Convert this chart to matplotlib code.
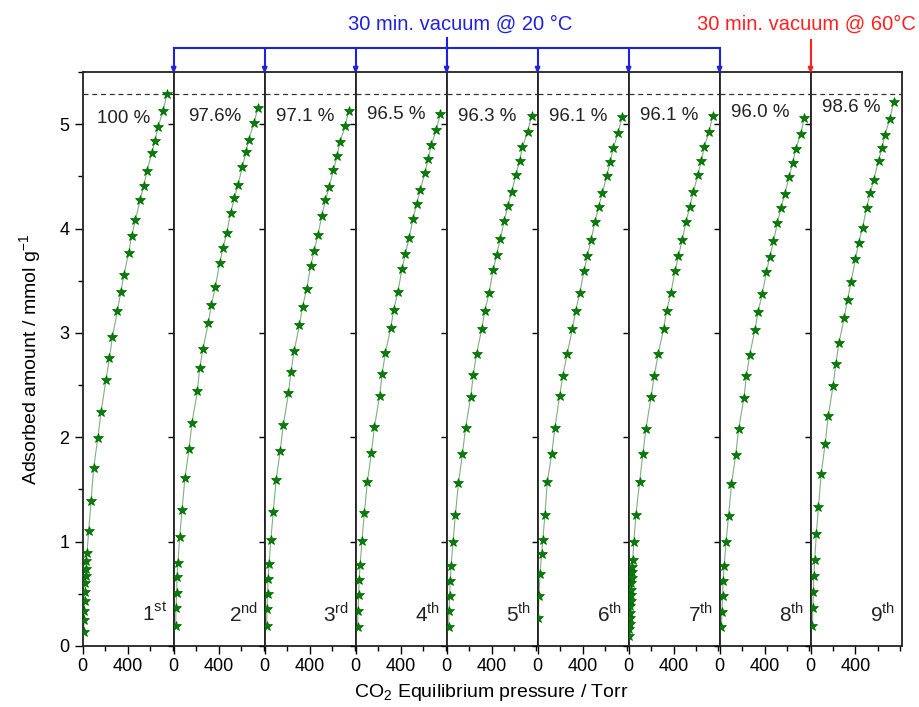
import matplotlib.pyplot as plt
from matplotlib.ticker import MultipleLocator

plt.rcParams['font.family'] = ['Liberation Sans', 'DejaVu Sans']

# CO2 pressure (Torr) and adsorbed amount (mmol/g) for each cycle
p1 = [9, 12, 15, 18, 21, 24, 27, 30, 33, 38, 53, 74, 98, 134, 163, 207, 238, 264, 309, 338,
      368, 409, 436, 469, 510, 543, 572, 614, 643, 670, 715, 750]
q1 = [0.13, 0.25, 0.34, 0.43, 0.52, 0.60, 0.67, 0.74, 0.81, 0.89, 1.10, 1.39, 1.71, 1.99, 2.24,
      2.55, 2.76, 2.96, 3.21, 3.39, 3.56, 3.77, 3.93, 4.08, 4.27, 4.41, 4.55, 4.72, 4.84, 4.97,
      5.13, 5.29]

p2 = [18, 20, 27, 29, 38, 53, 74, 100, 137, 163, 211, 231, 261, 309, 335, 371, 409, 439, 472,
      507, 540, 572, 611, 643, 668, 715, 750]
q2 = [0.19, 0.36, 0.51, 0.66, 0.80, 1.04, 1.30, 1.61, 1.89, 2.14, 2.44, 2.66, 2.85, 3.10, 3.27,
      3.44, 3.67, 3.81, 3.96, 4.15, 4.29, 4.42, 4.59, 4.73, 4.85, 5.01, 5.16]

p3 = [18, 20, 26, 30, 39, 55, 76, 102, 138, 166, 212, 234, 263, 310, 337, 373, 410, 441, 474,
      508, 541, 574, 612, 645, 670, 716, 748]
q3 = [0.19, 0.35, 0.50, 0.64, 0.79, 1.02, 1.28, 1.59, 1.87, 2.12, 2.42, 2.63, 2.83, 3.08, 3.25,
      3.42, 3.64, 3.79, 3.94, 4.12, 4.27, 4.40, 4.56, 4.70, 4.83, 4.98, 5.13]

p4 = [17, 21, 27, 31, 40, 56, 77, 104, 140, 167, 214, 236, 265, 312, 339, 375, 412, 443, 476,
      510, 543, 576, 614, 647, 672, 719, 754]
q4 = [0.18, 0.34, 0.49, 0.63, 0.78, 1.01, 1.27, 1.57, 1.85, 2.10, 2.40, 2.61, 2.81, 3.05, 3.22,
      3.39, 3.61, 3.76, 3.91, 4.09, 4.24, 4.37, 4.53, 4.67, 4.80, 4.95, 5.10]

p5 = [17, 21, 27, 31, 40, 57, 78, 105, 141, 168, 215, 237, 266, 313, 340, 377, 414, 445, 478,
      512, 545, 578, 616, 649, 675, 721, 756]
q5 = [0.18, 0.34, 0.48, 0.62, 0.77, 1.00, 1.26, 1.56, 1.84, 2.09, 2.39, 2.60, 2.80, 3.04, 3.21,
      3.38, 3.60, 3.75, 3.90, 4.07, 4.22, 4.35, 4.51, 4.65, 4.78, 4.93, 5.08]

p6 = [6, 12, 21, 36, 47, 65, 86, 125, 154, 196, 225, 263, 310, 338, 375, 412, 443, 476, 510,
      543, 576, 614, 647, 672, 718, 751]
q6 = [0.27, 0.48, 0.69, 0.88, 1.02, 1.26, 1.57, 1.84, 2.09, 2.40, 2.59, 2.80, 3.04, 3.21, 3.38,
      3.59, 3.74, 3.89, 4.06, 4.21, 4.34, 4.50, 4.64, 4.77, 4.92, 5.07]

p7 = [6, 8, 10, 12, 14, 16, 18, 20, 22, 24, 27, 30, 33, 36, 47, 65, 98, 127, 154, 201, 228,
      264, 311, 338, 376, 413, 444, 477, 511, 544, 577, 615, 648, 673, 717, 748]
q7 = [0.10, 0.16, 0.21, 0.27, 0.32, 0.38, 0.43, 0.49, 0.54, 0.60, 0.65, 0.71, 0.76, 0.82, 1.00,
      1.26, 1.57, 1.84, 2.08, 2.39, 2.59, 2.80, 3.04, 3.21, 3.38, 3.59, 3.74, 3.89, 4.06, 4.21,
      4.35, 4.51, 4.65, 4.78, 4.93, 5.08]

p8 = [17, 21, 27, 31, 41, 58, 80, 106, 143, 170, 217, 239, 268, 315, 342, 379, 416, 447, 480,
      514, 547, 580, 618, 651, 677, 723, 754]
q8 = [0.18, 0.33, 0.48, 0.62, 0.77, 1.00, 1.25, 1.55, 1.83, 2.08, 2.38, 2.59, 2.79, 3.03, 3.20,
      3.37, 3.58, 3.73, 3.88, 4.05, 4.20, 4.33, 4.49, 4.63, 4.76, 4.91, 5.06]

p9 = [17, 20, 26, 29, 37, 51, 70, 95, 130, 157, 200, 225, 252, 299, 329, 361, 400, 427, 463,
      499, 531, 563, 605, 635, 662, 706, 739]
q9 = [0.19, 0.36, 0.52, 0.67, 0.82, 1.07, 1.33, 1.65, 1.94, 2.20, 2.49, 2.70, 2.90, 3.14, 3.32,
      3.49, 3.71, 3.86, 4.01, 4.20, 4.34, 4.47, 4.65, 4.77, 4.90, 5.05, 5.21]

pressures = [p1, p2, p3, p4, p5, p6, p7, p8, p9]
amounts = [q1, q2, q3, q4, q5, q6, q7, q8, q9]
retention = ['100 %', '97.6%', '97.1 %', '96.5 %', '96.3 %', '96.1 %', '96.1 %', '96.0 %', '98.6 %']
cycles = ['1$^{\\mathregular{st}}$', '2$^{\\mathregular{nd}}$', '3$^{\\mathregular{rd}}$'] + \
         ['%d$^{\\mathregular{th}}$' % i for i in range(4, 10)]
label_y = [5.06, 5.07, 5.07, 5.09, 5.07, 5.07, 5.08, 5.11, 5.16]
q_max = 5.29

fig = plt.figure(figsize=(9.19, 7.07), dpi=100)
axes = fig.subplots(1, 9, sharey=True)
fig.subplots_adjust(left=0.090, right=0.981, bottom=0.0863, top=0.898, wspace=0)

for i, ax in enumerate(axes):
    ax.plot(pressures[i], amounts[i], '-', color='#7fb07f', lw=0.8, zorder=2)
    ax.plot(pressures[i], amounts[i], '*', color='#008000', ms=7.5, mec='#006400', mew=0.5,
            ls='none', zorder=3)
    ax.axhline(q_max, color='#333333', ls=(0, (4, 3)), lw=0.9, zorder=1)
    ax.set_xlim(0, 810)
    ax.set_ylim(0, 5.5)
    ax.xaxis.set_major_locator(MultipleLocator(400))
    ax.xaxis.set_minor_locator(MultipleLocator(200))
    ax.tick_params(axis='x', which='major', direction='out', length=6, width=1, labelsize=13,
                   pad=3, top=False)
    ax.tick_params(axis='x', which='minor', direction='out', length=3.5, width=1, top=False)
    for s in ax.spines.values():
        s.set_linewidth(1.3)
        s.set_color('#222222')
    if i == 0:
        ax.yaxis.set_major_locator(MultipleLocator(1))
        ax.yaxis.set_minor_locator(MultipleLocator(0.5))
        ax.tick_params(axis='y', which='major', direction='out', length=6, width=1, labelsize=13)
        ax.tick_params(axis='y', which='minor', direction='out', length=3.5, width=1)
    else:
        ax.tick_params(axis='y', which='major', direction='out', length=4, width=1, labelleft=False)
        ax.tick_params(axis='y', which='minor', left=False)
    ax.tick_params(axis='y', which='both', right=False)
    ax.set_xticks([0, 400])
    ax.set_xticklabels(['0', '400'])
    ax.text(0.45, label_y[i], retention[i], transform=ax.get_yaxis_transform(),
            ha='center', va='center', fontsize=13.5, color='#222222')
    ax.text(0.93, 0.2, cycles[i], transform=ax.get_yaxis_transform(),
            ha='right', va='bottom', fontsize=15, color='#222222')

axes[0].set_ylabel('Adsorbed amount / mmol g$^{\\mathregular{-1}}$', fontsize=14, labelpad=11)
fig.text(0.535, 0.006, 'CO$_{\\mathregular{2}}$ Equilibrium pressure / Torr', ha='center',
         va='bottom', fontsize=14)

# vacuum treatment markers above the panels
bracket_y = 1 - 48 / 707
axes_top = 0.898
edges = [axes[k].get_position().x0 for k in range(1, 8)]
fig.add_artist(plt.Line2D([edges[0], edges[-1]], [bracket_y, bracket_y], color='#2020e0', lw=1.5,
                          transform=fig.transFigure))
for x in edges:
    fig.add_artist(plt.Line2D([x, x], [bracket_y, axes_top + 0.006], color='#2020e0', lw=1.5,
                              transform=fig.transFigure))
    fig.patches.append(plt.Polygon([[x - 0.0025, axes_top + 0.008], [x + 0.0025, axes_top + 0.008],
                                    [x, axes_top]], closed=True, color='#2020e0',
                                   transform=fig.transFigure))
mid = edges[3]
fig.add_artist(plt.Line2D([mid, mid], [bracket_y, 1 - 38 / 707], color='#2020e0', lw=1.5,
                          transform=fig.transFigure))
fig.text(0.501, 1 - 24 / 707, '30 min. vacuum @ 20 °C', color='#2020e0', fontsize=14.5,
         ha='center', va='center')

x9 = axes[8].get_position().x0
fig.add_artist(plt.Line2D([x9, x9], [1 - 40 / 707, axes_top + 0.006], color='#ff2020', lw=1.5,
                          transform=fig.transFigure))
fig.patches.append(plt.Polygon([[x9 - 0.0025, axes_top + 0.008], [x9 + 0.0025, axes_top + 0.008],
                                [x9, axes_top]], closed=True, color='#ff2020',
                               transform=fig.transFigure))
fig.text(0.878, 1 - 24 / 707, '30 min. vacuum @ 60°C', color='#ff2020', fontsize=14.5,
         ha='center', va='center')

fig.savefig('out.png', dpi=100)
